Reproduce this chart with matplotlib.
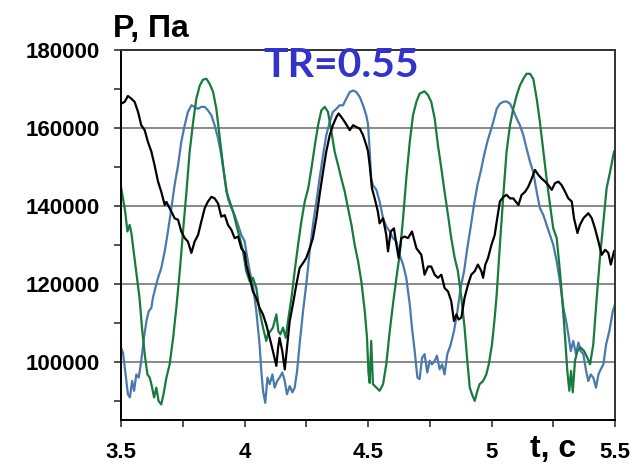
import numpy as np
import matplotlib
matplotlib.use("Agg")
import matplotlib.pyplot as plt
from matplotlib.ticker import MultipleLocator

# pressure traces: (time, s ; pressure, kPa)
black_pts = [
    (3.500, 166.2), (3.515, 166.7), (3.528, 168.2), (3.542, 167.5), (3.555, 166.7), (3.569, 164.1),
    (3.582, 160.7), (3.596, 159.4), (3.609, 156.4), (3.623, 153.9), (3.636, 150.4), (3.650, 146.2),
    (3.663, 143.6), (3.677, 140.2), (3.684, 141.0), (3.690, 140.2), (3.704, 138.5), (3.717, 136.8),
    (3.731, 136.4), (3.744, 133.4), (3.758, 131.7), (3.771, 130.8), (3.785, 127.9), (3.798, 130.8),
    (3.812, 132.5), (3.825, 135.9), (3.839, 139.4), (3.852, 141.1), (3.866, 142.3), (3.879, 141.9),
    (3.893, 140.6), (3.906, 137.2), (3.920, 137.6), (3.933, 135.1), (3.947, 133.8), (3.960, 131.7),
    (3.974, 132.1), (3.987, 129.1), (4.001, 127.9), (4.007, 124.9), (4.021, 121.5), (4.034, 118.0),
    (4.048, 116.3), (4.061, 113.8), (4.075, 112.1), (4.088, 109.5), (4.102, 106.1), (4.115, 102.7),
    (4.129, 98.9), (4.136, 103.6), (4.142, 106.1), (4.153, 102.7), (4.163, 98.0), (4.172, 103.6),
    (4.183, 110.4), (4.196, 114.7), (4.210, 119.8), (4.223, 124.0), (4.237, 125.3), (4.250, 126.6),
    (4.264, 129.1), (4.277, 131.7), (4.291, 136.8), (4.304, 142.8), (4.318, 148.7), (4.331, 153.9),
    (4.345, 158.1), (4.358, 160.7), (4.372, 162.8), (4.381, 163.7), (4.392, 162.8), (4.406, 161.5),
    (4.419, 160.2), (4.426, 159.4), (4.440, 160.7), (4.453, 160.2), (4.467, 159.8), (4.480, 158.1),
    (4.493, 155.6), (4.500, 154.0), (4.507, 150.4), (4.516, 144.5), (4.527, 141.9), (4.540, 138.5),
    (4.547, 135.5), (4.561, 136.8), (4.574, 132.5), (4.581, 128.3), (4.592, 133.4), (4.605, 134.2),
    (4.615, 130.0), (4.624, 126.6), (4.635, 131.7), (4.648, 132.1), (4.662, 131.7), (4.678, 133.4),
    (4.696, 129.1), (4.716, 127.4), (4.729, 122.3), (4.743, 124.4), (4.756, 124.4), (4.770, 122.3),
    (4.783, 121.5), (4.797, 122.3), (4.810, 118.9), (4.824, 118.0), (4.837, 115.5), (4.848, 110.4),
    (4.858, 112.1), (4.867, 110.8), (4.878, 111.3), (4.891, 116.4), (4.905, 119.8), (4.918, 122.3),
    (4.932, 123.2), (4.945, 124.9), (4.959, 123.2), (4.966, 121.5), (4.975, 124.9), (4.986, 126.6),
    (5.000, 130.0), (5.013, 132.5), (5.021, 135.9), (5.034, 141.1), (5.048, 142.3), (5.061, 142.8),
    (5.075, 141.9), (5.088, 141.9), (5.109, 140.2), (5.122, 142.8), (5.136, 143.6), (5.149, 144.9),
    (5.163, 147.0), (5.176, 149.2), (5.190, 147.9), (5.203, 147.0), (5.217, 146.2), (5.230, 145.3),
    (5.244, 144.1), (5.257, 145.8), (5.271, 146.2), (5.284, 145.3), (5.298, 143.6), (5.311, 141.9),
    (5.325, 141.1), (5.334, 136.8), (5.348, 133.0), (5.358, 135.1), (5.372, 136.8), (5.392, 138.1),
    (5.406, 136.8), (5.419, 134.2), (5.433, 130.8), (5.446, 127.4), (5.460, 128.7), (5.473, 127.9),
    (5.483, 124.9), (5.496, 128.3),
]

blue_pts = [
    (3.500, 103.6), (3.508, 102.3), (3.517, 97.6), (3.528, 91.6), (3.536, 90.8), (3.545, 95.0),
    (3.553, 92.5), (3.562, 96.7), (3.572, 95.9), (3.582, 100.2), (3.593, 106.1), (3.603, 110.4),
    (3.612, 112.9), (3.623, 113.8), (3.629, 116.3), (3.639, 118.9), (3.650, 121.5), (3.663, 124.0),
    (3.677, 128.3), (3.690, 133.4), (3.704, 139.4), (3.717, 145.3), (3.731, 150.4), (3.744, 156.4),
    (3.758, 160.7), (3.771, 164.1), (3.785, 165.8), (3.798, 165.4), (3.812, 164.9), (3.825, 165.4),
    (3.839, 165.4), (3.852, 164.5), (3.866, 163.2), (3.879, 160.7), (3.893, 157.3), (3.906, 153.0),
    (3.920, 147.0), (3.933, 141.9), (3.947, 139.4), (3.960, 137.6), (3.974, 135.1), (3.987, 132.5),
    (4.000, 131.0), (4.007, 128.3), (4.021, 123.2), (4.034, 119.8), (4.048, 112.9), (4.061, 104.4),
    (4.068, 97.6), (4.075, 92.5), (4.084, 89.4), (4.093, 95.9), (4.102, 94.2), (4.113, 96.7),
    (4.122, 93.3), (4.132, 95.0), (4.142, 95.9), (4.153, 97.2), (4.163, 95.0), (4.172, 91.6),
    (4.183, 93.7), (4.194, 92.1), (4.203, 93.3), (4.213, 97.6), (4.223, 104.4), (4.237, 112.9),
    (4.250, 119.8), (4.264, 128.3), (4.277, 135.1), (4.291, 141.1), (4.304, 147.0), (4.318, 153.0),
    (4.331, 158.1), (4.345, 161.5), (4.358, 164.1), (4.372, 164.9), (4.385, 165.8), (4.399, 165.8),
    (4.412, 167.5), (4.426, 169.2), (4.440, 169.6), (4.453, 169.2), (4.467, 167.9), (4.480, 165.8),
    (4.493, 163.2), (4.500, 161.0), (4.506, 155.0), (4.513, 147.0), (4.520, 145.3), (4.534, 144.1),
    (4.547, 141.1), (4.561, 136.8), (4.574, 134.7), (4.588, 133.4), (4.601, 131.7), (4.615, 130.8),
    (4.628, 127.4), (4.642, 124.9), (4.655, 121.5), (4.669, 114.7), (4.678, 108.7), (4.689, 102.7),
    (4.700, 95.9), (4.709, 95.5), (4.719, 101.0), (4.729, 101.9), (4.740, 97.2), (4.750, 100.2),
    (4.759, 99.3), (4.770, 100.2), (4.779, 101.5), (4.790, 98.0), (4.800, 99.3), (4.810, 96.7),
    (4.821, 101.9), (4.835, 104.4), (4.848, 107.8), (4.862, 112.9), (4.875, 118.9), (4.889, 123.2),
    (4.902, 129.1), (4.916, 134.7), (4.929, 140.2), (4.943, 145.3), (4.956, 148.7), (4.970, 153.0),
    (4.983, 156.4), (4.997, 159.4), (5.007, 161.5), (5.021, 164.9), (5.034, 166.2), (5.048, 166.7),
    (5.061, 166.8), (5.075, 166.2), (5.088, 164.5), (5.102, 162.4), (5.115, 160.7), (5.129, 158.1),
    (5.142, 154.7), (5.156, 151.3), (5.169, 148.7), (5.183, 143.6), (5.196, 139.4), (5.210, 137.6),
    (5.223, 135.1), (5.237, 132.5), (5.250, 130.0), (5.264, 125.7), (5.277, 120.6), (5.291, 113.8),
    (5.302, 110.4), (5.311, 107.0), (5.321, 102.7), (5.331, 105.3), (5.342, 101.9), (5.352, 104.9),
    (5.361, 102.7), (5.372, 101.9), (5.383, 97.6), (5.392, 95.0), (5.402, 96.7), (5.412, 95.9),
    (5.423, 93.3), (5.433, 96.7), (5.442, 98.0), (5.453, 99.3), (5.464, 104.4), (5.477, 107.8),
    (5.491, 112.9), (5.500, 114.7),
]

green_pts = [
    (3.500, 144.9), (3.508, 141.9), (3.517, 138.5), (3.526, 133.4), (3.535, 135.1), (3.542, 133.0),
    (3.548, 130.0), (3.562, 123.2), (3.575, 116.3), (3.585, 108.7), (3.596, 101.9), (3.607, 96.7),
    (3.616, 95.9), (3.623, 94.2), (3.634, 90.8), (3.643, 93.3), (3.652, 89.9), (3.663, 89.0),
    (3.672, 91.6), (3.684, 95.9), (3.697, 99.3), (3.711, 106.1), (3.724, 113.8), (3.738, 123.2),
    (3.751, 133.4), (3.765, 143.6), (3.778, 153.9), (3.792, 161.5), (3.805, 167.5), (3.819, 170.9),
    (3.832, 172.4), (3.846, 172.6), (3.859, 171.3), (3.873, 169.2), (3.886, 164.9), (3.900, 157.3),
    (3.913, 150.4), (3.927, 143.6), (3.940, 141.1), (3.954, 138.5), (3.967, 135.1), (3.981, 131.7),
    (3.994, 128.3), (4.007, 123.2), (4.021, 120.6), (4.034, 121.5), (4.048, 118.9), (4.061, 112.9),
    (4.075, 108.7), (4.088, 105.3), (4.095, 107.0), (4.105, 107.8), (4.115, 108.7), (4.129, 112.1),
    (4.137, 107.8), (4.145, 107.0), (4.156, 108.7), (4.167, 106.1), (4.176, 110.4), (4.190, 116.3),
    (4.203, 123.2), (4.217, 130.0), (4.230, 135.9), (4.244, 141.1), (4.258, 144.5), (4.271, 149.6),
    (4.285, 155.6), (4.298, 160.7), (4.311, 164.5), (4.325, 165.4), (4.338, 164.1), (4.352, 159.0),
    (4.365, 153.9), (4.379, 150.4), (4.392, 147.0), (4.406, 143.6), (4.419, 139.4), (4.433, 135.1),
    (4.446, 130.0), (4.460, 125.7), (4.473, 120.6), (4.487, 112.9), (4.496, 106.1), (4.502, 97.0),
    (4.507, 94.5), (4.513, 105.3), (4.520, 94.2), (4.534, 93.3), (4.547, 92.5), (4.561, 94.2),
    (4.574, 99.3), (4.588, 107.8), (4.601, 114.7), (4.615, 121.5), (4.628, 127.4), (4.642, 136.8),
    (4.655, 147.0), (4.669, 156.4), (4.682, 163.2), (4.696, 166.7), (4.709, 168.8), (4.729, 169.4),
    (4.743, 168.4), (4.756, 166.7), (4.770, 162.4), (4.783, 155.6), (4.797, 149.6), (4.810, 143.6),
    (4.824, 137.6), (4.837, 131.7), (4.851, 126.6), (4.864, 123.2), (4.878, 116.4), (4.891, 108.7),
    (4.902, 100.2), (4.912, 93.3), (4.921, 91.6), (4.932, 89.9), (4.943, 92.5), (4.952, 94.2),
    (4.966, 95.0), (4.979, 96.7), (4.989, 99.3), (5.002, 104.4), (5.013, 111.3), (5.021, 117.2),
    (5.034, 130.0), (5.048, 142.8), (5.061, 153.9), (5.075, 160.7), (5.088, 164.9), (5.102, 168.4),
    (5.115, 170.9), (5.129, 172.6), (5.142, 173.9), (5.156, 173.9), (5.169, 172.6), (5.183, 167.5),
    (5.196, 161.5), (5.210, 153.9), (5.223, 147.0), (5.237, 140.2), (5.250, 134.2), (5.264, 131.7),
    (5.277, 123.2), (5.288, 114.7), (5.298, 106.1), (5.307, 97.6), (5.315, 92.5), (5.322, 97.6),
    (5.329, 92.1), (5.338, 100.2), (5.348, 102.7), (5.361, 103.6), (5.375, 102.7), (5.388, 101.0),
    (5.399, 99.3), (5.412, 104.4), (5.426, 116.4), (5.439, 126.6), (5.453, 135.9), (5.466, 144.5),
    (5.480, 148.7), (5.496, 153.9),
]

x_ticks = [3.5, 4, 4.5, 5, 5.5]
x_tick_labels = ['3.5', '4', '4.5', '5', '5.5']
y_ticks = [100000, 120000, 140000, 160000, 180000]

series = [
    (blue_pts, '#4a79ae'),
    (green_pts, '#187a3e'),
    (black_pts, 'black'),
]

plt.rcParams['font.family'] = ['Liberation Sans', 'DejaVu Sans']

fig = plt.figure(figsize=(6.35, 4.65), dpi=100)
ax = fig.add_axes([121 / 635, 1 - 420 / 465, 494 / 635, 370 / 465])

for pts, color in series:
    t, p = zip(*pts)
    ax.plot(t, np.array(p) * 1000, color=color, lw=1.6, solid_joinstyle='round')

ax.set_xlim(3.5, 5.5)
ax.set_ylim(85000, 180000)
ax.set_xticks(x_ticks)
ax.set_xticklabels(x_tick_labels)
ax.set_yticks(y_ticks)
ax.xaxis.set_minor_locator(MultipleLocator(0.25))
ax.yaxis.set_minor_locator(MultipleLocator(10000))
ax.grid(axis='y', which='major', color='#808080', lw=1.3)
ax.set_axisbelow(True)

ax.tick_params(which='both', direction='out', length=5, width=1.2, color='#333333')
ax.tick_params(axis='y', pad=10)
ax.tick_params(axis='x', pad=11)
for lab in ax.get_xticklabels() + ax.get_yticklabels():
    lab.set_fontsize(16)
    lab.set_fontweight('bold')

ax.spines['left'].set_color('black')
ax.spines['bottom'].set_color('black')
ax.spines['top'].set_color('#333333')
ax.spines['right'].set_color('#333333')
for s in ax.spines.values():
    s.set_linewidth(1.4)

fig.text(113 / 635, 1 - 37 / 465, 'P, Па', fontsize=23, fontweight='bold', va='baseline', ha='left')
fig.text(530 / 635, 1 - 457 / 465, 't, с', fontsize=23, fontweight='bold', va='baseline', ha='left')
fig.text(263 / 635, 1 - 77 / 465, 'TR=0.55', fontsize=29.5, fontweight='bold', color='#3333cc',
         family=['Lato', 'DejaVu Sans'], va='baseline', ha='left')

plt.savefig('out.png', dpi=100)
